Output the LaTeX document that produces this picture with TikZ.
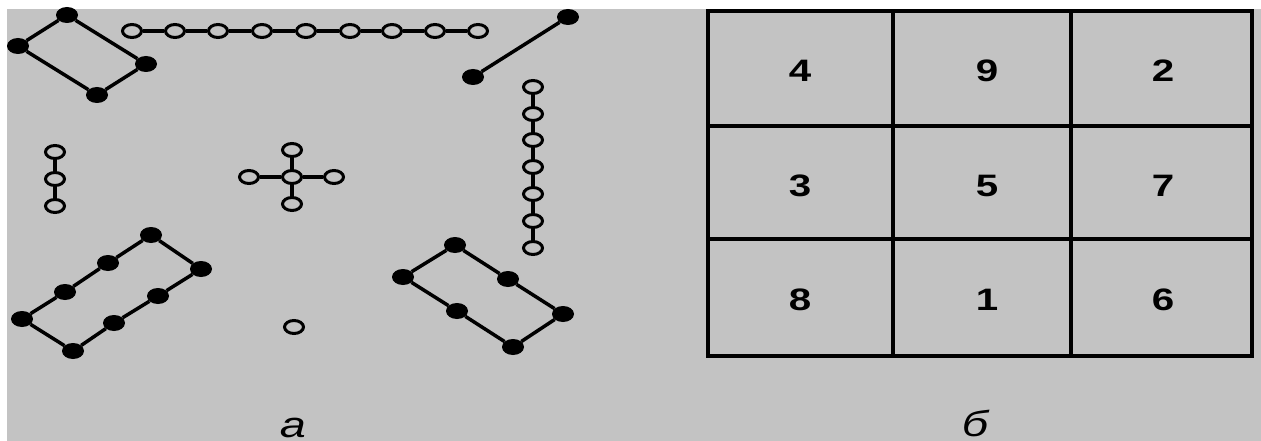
\documentclass[tikz,border=0pt]{standalone}
\usepackage{fontspec}
\setmainfont{Liberation Sans}
\usetikzlibrary{shapes.geometric}
\definecolor{bg}{HTML}{C3C3C3}
\begin{document}
\begin{tikzpicture}[x=1pt,y=-1pt,
  bdot/.style={ellipse, fill=black, minimum width=22pt, minimum height=16pt, inner sep=0pt},
  odot/.style={ellipse, draw=black, line width=3pt, fill=bg, minimum width=19pt, minimum height=13pt, inner sep=0pt},
  link/.style={line width=3.5pt, black},
  gridline/.style={line width=4pt, black},
  digit/.style={font=\bfseries\fontsize{31}{31}\selectfont, inner sep=0pt},
  caption/.style={font=\itshape\fontsize{36}{36}\selectfont, inner sep=0pt, anchor=north}]
\useasboundingbox (0,0) rectangle (1261,441);
\fill[white] (0,0) rectangle (1261,441);
\fill[bg] (7,9) rectangle (1261,441);
% top-left rectangle (4)
\node[bdot] (a1) at (67,15) {};
\node[bdot] (a2) at (18,46) {};
\node[bdot] (a3) at (97,95) {};
\node[bdot] (a4) at (146,64) {};
\draw[link] (a1) -- (a2) -- (a3) -- (a4) -- (a1);
% top row (9)
\foreach \i/\x in {1/132,2/175,3/218,4/262,5/306,6/350,7/392,8/435,9/478}
  \node[odot] (t\i) at (\x,31) {};
\foreach \i [evaluate=\i as \j using int(\i+1)] in {1,...,8}
  \draw[link] (t\i) -- (t\j);
% top-right line (2)
\node[bdot] (b1) at (568,17) {};
\node[bdot] (b2) at (473,77) {};
\draw[link] (b1) -- (b2);
% right vertical (7)
\foreach \i/\y in {1/87,2/114,3/140,4/167,5/194,6/221,7/248}
  \node[odot] (r\i) at (533,\y) {};
\foreach \i [evaluate=\i as \j using int(\i+1)] in {1,...,6}
  \draw[link] (r\i) -- (r\j);
% left vertical (3)
\foreach \i/\y in {1/152,2/179,3/206}
  \node[odot] (l\i) at (55,\y) {};
\draw[link] (l1) -- (l2) -- (l3);
% cross (5)
\node[odot] (c0) at (292,177) {};
\node[odot] (cn) at (292,150) {};
\node[odot] (cs) at (292,204) {};
\node[odot] (cw) at (249,177) {};
\node[odot] (ce) at (334,177) {};
\draw[link] (c0) -- (cn);
\draw[link] (c0) -- (cs);
\draw[link] (c0) -- (cw);
\draw[link] (c0) -- (ce);
% bottom-left rectangle (8)
\node[bdot] (d1) at (151,235) {};
\node[bdot] (d2) at (108,263) {};
\node[bdot] (d3) at (65,292) {};
\node[bdot] (d4) at (22,319) {};
\node[bdot] (d5) at (73,351) {};
\node[bdot] (d6) at (114,323) {};
\node[bdot] (d7) at (158,296) {};
\node[bdot] (d8) at (201,269) {};
\draw[link] (d1) -- (d2) -- (d3) -- (d4) -- (d5) -- (d6) -- (d7) -- (d8) -- (d1);
% single (1)
\node[odot] (s1) at (294,327) {};
% bottom-right rectangle (6)
\node[bdot] (e1) at (455,245) {};
\node[bdot] (e2) at (403,277) {};
\node[bdot] (e3) at (457,311) {};
\node[bdot] (e4) at (513,347) {};
\node[bdot] (e5) at (563,314) {};
\node[bdot] (e6) at (508,279) {};
\draw[link] (e1) -- (e2) -- (e3) -- (e4) -- (e5) -- (e6) -- (e1);
% magic square
\draw[gridline] (708,11) rectangle (1252,356);
\draw[gridline] (893,11) -- (893,356);
\draw[gridline] (1071,11) -- (1071,356);
\draw[gridline] (708,126) -- (1252,126);
\draw[gridline] (708,239) -- (1252,239);
\node[digit] (n4) at (800,71) {\scalebox{1.3}[1]{4}};
\node[digit] (n9) at (987,71) {\scalebox{1.3}[1]{9}};
\node[digit] (n2) at (1163,71) {\scalebox{1.3}[1]{2}};
\node[digit] (n3) at (800,186) {\scalebox{1.3}[1]{3}};
\node[digit] (n5) at (987,186) {\scalebox{1.3}[1]{5}};
\node[digit] (n7) at (1163,186) {\scalebox{1.3}[1]{7}};
\node[digit] (n8) at (800,300) {\scalebox{1.3}[1]{8}};
\node[digit] (n1) at (987,300) {\scalebox{1.3}[1]{1}};
\node[digit] (n6) at (1163,300) {\scalebox{1.3}[1]{6}};
% captions
\node[caption] (capa) at (293,418) {\scalebox{1.3}[1]{а}};
\node[caption] (capb) at (975,410) {\scalebox{1.3}[1]{б}};
\end{tikzpicture}
\end{document}
